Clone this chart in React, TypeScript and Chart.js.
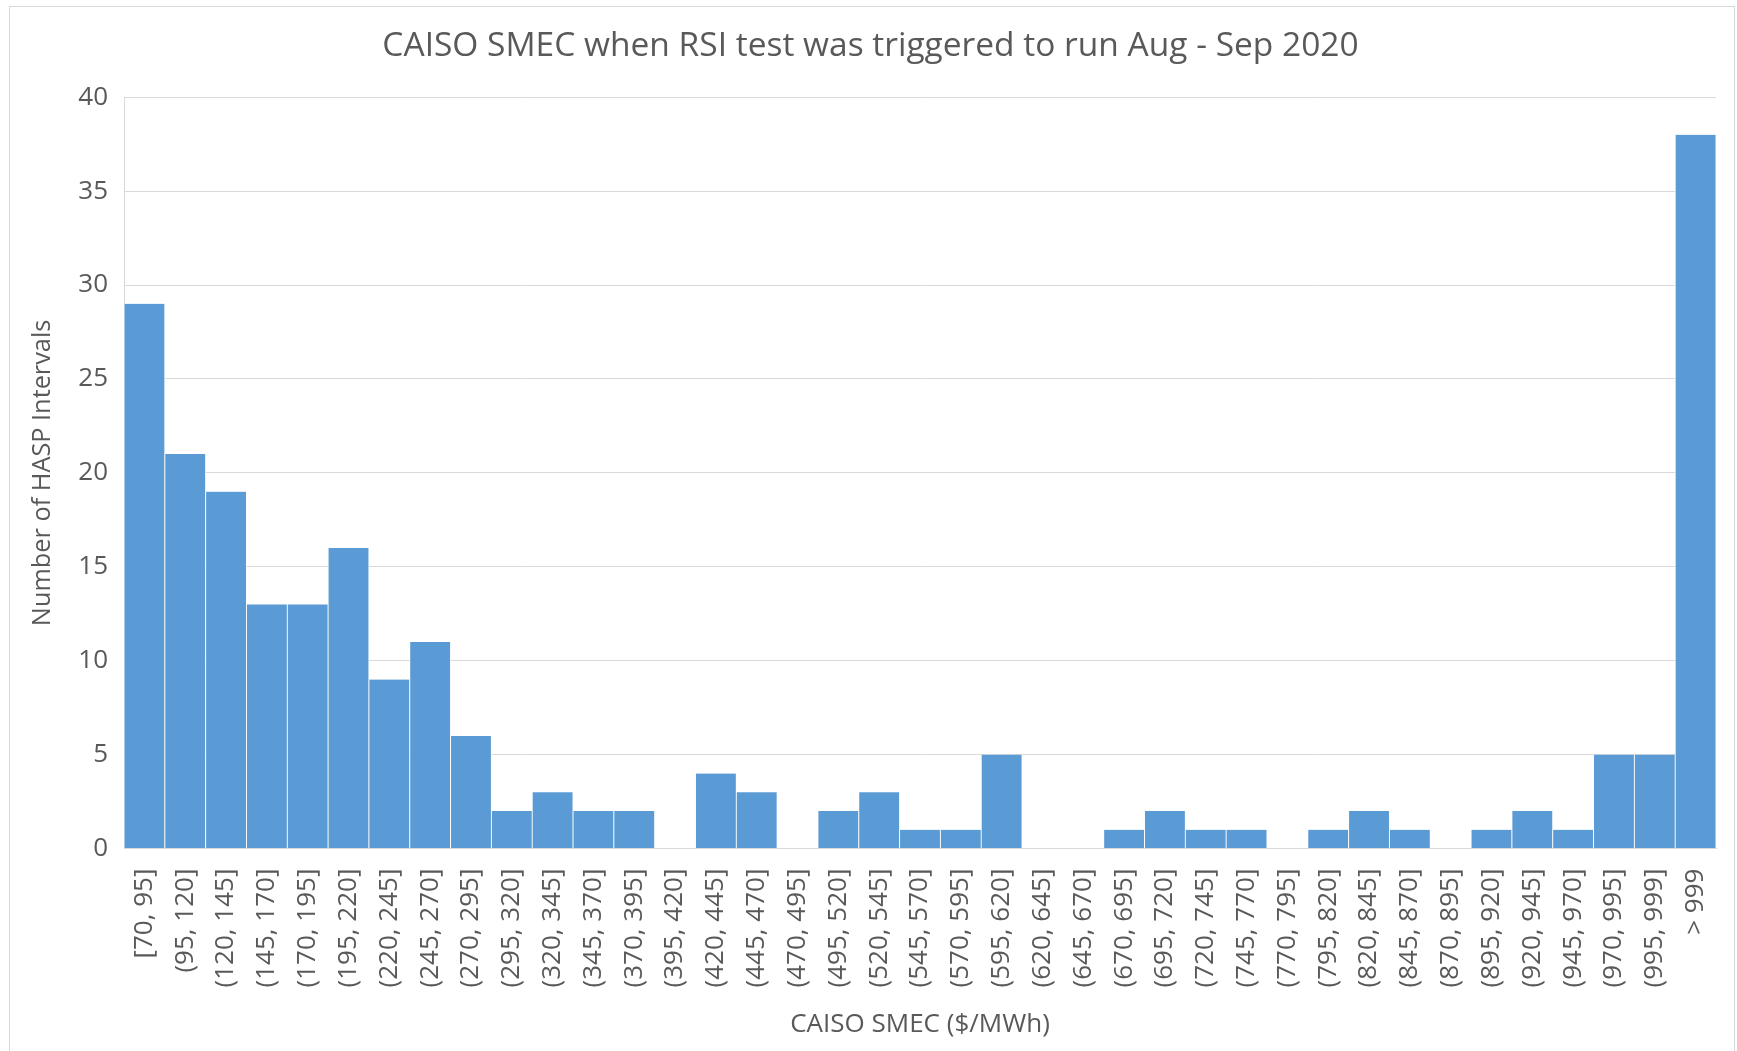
import React, { useEffect, useRef } from "react";
import { Chart, registerables } from "chart.js";

Chart.register(...registerables);

const categories: string[] = [
  "[70, 95]", "(95, 120]", "(120, 145]", "(145, 170]", "(170, 195]", "(195, 220]",
  "(220, 245]", "(245, 270]", "(270, 295]", "(295, 320]", "(320, 345]", "(345, 370]",
  "(370, 395]", "(395, 420]", "(420, 445]", "(445, 470]", "(470, 495]", "(495, 520]",
  "(520, 545]", "(545, 570]", "(570, 595]", "(595, 620]", "(620, 645]", "(645, 670]",
  "(670, 695]", "(695, 720]", "(720, 745]", "(745, 770]", "(770, 795]", "(795, 820]",
  "(820, 845]", "(845, 870]", "(870, 895]", "(895, 920]", "(920, 945]", "(945, 970]",
  "(970, 995]", "(995, 999]", "> 999",
];

const counts: number[] = [
  29, 21, 19, 13, 13, 16,
  9, 11, 6, 2, 3, 2,
  2, 0, 4, 3, 0, 2,
  3, 1, 1, 5, 0, 0,
  1, 2, 1, 1, 0, 1,
  2, 1, 0, 1, 2, 1,
  5, 5, 38,
];

const chartTitle = "CAISO SMEC when RSI test was triggered to run Aug - Sep 2020";
const xTitle = "CAISO SMEC ($/MWh)";
const yTitle = "Number of HASP Intervals";
const yMin = 0;
const yMax = 40;
const yStep = 5;

const W = 1737;
const H = 1051;
const FONT = "'Open Sans', sans-serif";
const TEXT = "#595959";
const GRID = "#d9d9d9";
const PAD_LEFT = 25;

const framePlugin = {
  id: "frame",
  beforeDraw(chart: any) {
    const ctx = chart.ctx;
    ctx.save();
    ctx.fillStyle = "#ffffff";
    ctx.fillRect(0, 0, chart.width, chart.height);
    ctx.strokeStyle = GRID;
    ctx.lineWidth = 1;
    ctx.strokeRect(9.5, 6.5, 1725, 1060);
    ctx.restore();
  },
};

export default function App() {
  const ref = useRef<HTMLCanvasElement | null>(null);

  useEffect(() => {
    document.body.style.margin = "0";
    const canvas = ref.current;
    if (!canvas) return;
    const chart = new Chart(canvas, {
      type: "bar",
      data: {
        labels: categories,
        datasets: [
          {
            data: counts,
            backgroundColor: "#5b9bd5",
            borderColor: "#ffffff",
            borderWidth: { left: 0.8, right: 0.8, top: 0, bottom: 0 },
            borderSkipped: false,
            barPercentage: 1,
            categoryPercentage: 1,
          },
        ],
      },
      plugins: [framePlugin],
      options: {
        responsive: false,
        animation: false,
        devicePixelRatio: 1,
        layout: { padding: { top: 10, left: PAD_LEFT, right: 21, bottom: 0 } },
        plugins: {
          legend: { display: false },
          tooltip: { enabled: false },
          title: {
            display: true,
            text: chartTitle,
            color: TEXT,
            font: { family: FONT, size: 33.5, weight: "normal", lineHeight: 1.2 },
            padding: { top: 16, bottom: 31 },
          },
        },
        scales: {
          x: {
            grid: { display: false, drawTicks: false },
            border: { display: true, color: GRID, width: 1 },
            ticks: {
              color: TEXT,
              font: { family: FONT, size: 26 },
              maxRotation: 90,
              minRotation: 90,
              autoSkip: false,
              padding: 20,
            },
            title: {
              display: true,
              text: xTitle,
              color: TEXT,
              font: { family: FONT, size: 26, lineHeight: 1.2 },
              padding: { top: 0, bottom: 11 },
            },
            afterFit(scale: any) {
              scale.height = H - 848.6;
              scale.paddingLeft = 0;
              scale.paddingRight = 0;
            },
          },
          y: {
            min: yMin,
            max: yMax,
            grid: { color: GRID, lineWidth: 1, drawTicks: false },
            border: { display: true, color: GRID, width: 1 },
            ticks: {
              stepSize: yStep,
              color: TEXT,
              font: { family: FONT, size: 26 },
              padding: 16,
            },
            title: {
              display: true,
              text: yTitle,
              color: TEXT,
              font: { family: FONT, size: 25.3, lineHeight: 1.2 },
              padding: { top: 43 - 15.2 - PAD_LEFT, bottom: 0 },
            },
            afterFit(scale: any) {
              scale.width = 124 - PAD_LEFT;
            },
          },
        },
      },
    });
    return () => chart.destroy();
  }, []);

  return (
    <div style={{ position: "absolute", left: 0, top: 0, width: W, height: H, overflow: "hidden", background: "#fff" }}>
      <canvas ref={ref} width={W} height={H} style={{ width: W, height: H, display: "block" }} />
    </div>
  );
}
